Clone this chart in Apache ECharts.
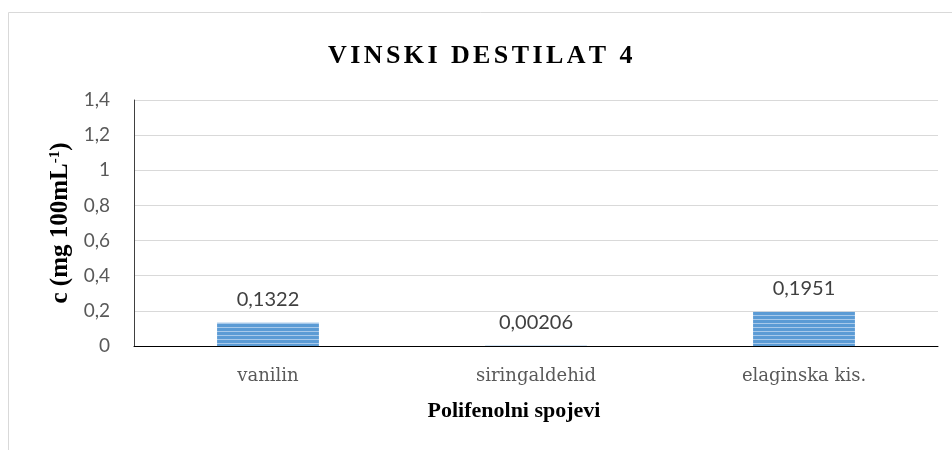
<!DOCTYPE html>
<html>
<head>
<meta charset="utf-8">
<script src="https://cdn.jsdelivr.net/npm/echarts@6/dist/echarts.min.js"></script>
<style>
  html, body { margin: 0; padding: 0; background: #fff; }
  #chart { width: 952px; height: 450px; }
</style>
</head>
<body>
<div id="chart"></div>
<script>
const categories = ['vanilin', 'siringaldehid', 'elaginska kis.']
const values     = [0.1322, 0.00206, 0.1951]
const yTicks     = { min: 0, max: 1.4, interval: 0.2 }
const titleText  = 'VINSKI DESTILAT 4'

const comma = v => String(v).replace('.', ',')

// title is spaced out letter by letter
const spaced = titleText.split('').map(ch => '{c|' + ch + '}').join('')

// horizontal stripes on the bars
const stripe = document.createElement('canvas')
stripe.width = 4
stripe.height = 4
const sctx = stripe.getContext('2d')
sctx.fillStyle = '#5b9bd5'
sctx.fillRect(0, 0, 4, 4)
sctx.fillStyle = '#a8c9ea'
sctx.fillRect(0, 3, 4, 1)

const chart = echarts.init(document.getElementById('chart'))
chart.setOption({
  animation: false,
  title: {
    text: spaced,
    left: 477,
    textAlign: 'center',
    top: 38,
    textStyle: {
      rich: {
        c: {
          fontFamily: 'Liberation Serif',
          fontWeight: 'bold',
          fontSize: 26,
          color: '#000',
          padding: [0, 3.4, 0, 0]
        }
      }
    }
  },
  graphic: [{
    type: 'rect',
    shape: { x: 8.5, y: 12.5, width: 1000, height: 500 },
    style: { fill: 'none', stroke: '#d9d9d9', lineWidth: 1 },
    silent: true
  }],
  grid: { left: 134, right: 14, top: 100, bottom: 104 },
  xAxis: {
    type: 'category',
    data: categories,
    name: 'Polifenolni spojevi',
    nameLocation: 'middle',
    nameGap: 54,
    nameTextStyle: {
      fontFamily: 'Liberation Serif',
      fontWeight: 'bold',
      fontSize: 22,
      color: '#000',
      padding: [0, 44, 0, 0]
    },
    axisLine: { lineStyle: { color: '#000', width: 1 } },
    axisTick: { show: false },
    axisLabel: {
      margin: 21,
      fontFamily: 'DejaVu Serif',
      fontSize: 18,
      color: '#595959'
    }
  },
  yAxis: {
    type: 'value',
    min: yTicks.min,
    max: yTicks.max,
    interval: yTicks.interval,
    name: '{n|c (mg 100mL}{s|-1}{n|)}',
    nameLocation: 'middle',
    nameGap: 59,
    nameRotate: 90,
    nameTextStyle: {
      rich: {
        n: { fontFamily: 'Liberation Serif', fontWeight: 'bold', fontSize: 25, color: '#000' },
        s: { fontFamily: 'Liberation Serif', fontWeight: 'bold', fontSize: 15, color: '#000', verticalAlign: 'top', padding: [0, 0, 10, 0] }
      }
    },
    axisLine: { show: true, lineStyle: { color: '#404040', width: 1 } },
    axisTick: { show: false },
    splitLine: { lineStyle: { color: '#d9d9d9', width: 1 } },
    axisLabel: {
      margin: 24,
      fontFamily: 'Lato',
      fontSize: 19,
      color: '#595959',
      formatter: v => comma(+v.toFixed(1))
    }
  },
  series: [{
    type: 'bar',
    data: values,
    barWidth: '38%',
    itemStyle: { color: { image: stripe, repeat: 'repeat' } },
    label: {
      show: true,
      position: 'top',
      distance: 13,
      fontFamily: 'Lato',
      fontSize: 20,
      color: '#404040',
      formatter: p => comma(p.value)
    }
  }]
})
</script>
</body>
</html>
